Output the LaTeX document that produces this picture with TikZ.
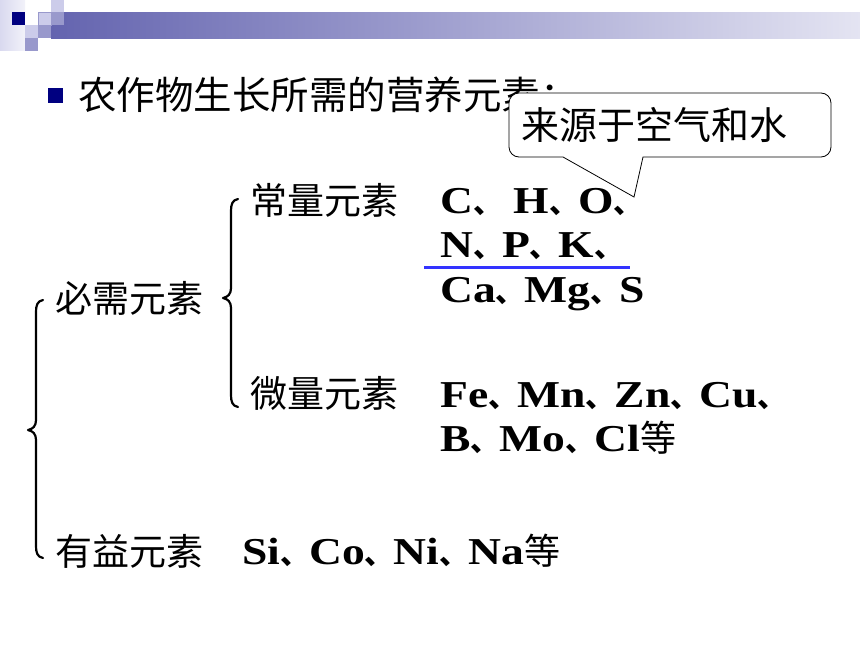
\documentclass[tikz,border=0pt]{standalone}
\usepackage{fontspec}
\setmainfont{Liberation Serif}[FakeStretch=1.2]
\newfontfamily\cjk{Noto Sans CJK SC}
\definecolor{navy}{HTML}{000080}
\definecolor{sqlight}{HTML}{CCCCEA}
\definecolor{sqmid}{HTML}{9999CC}
\definecolor{lineblue}{HTML}{3333FF}
\definecolor{c06}{HTML}{0C0C86}
\definecolor{c18}{HTML}{5353A6}
\definecolor{c47}{HTML}{9A9ACC}
\definecolor{c75}{HTML}{E4E4F2}
\definecolor{c100}{HTML}{FBFBFD}
\pgfdeclarehorizontalshading{hdrbar}{100bp}{color(0bp)=(navy); color(6bp)=(c06); color(18bp)=(c18); color(47bp)=(c47); color(75bp)=(c75); color(100bp)=(c100)}
\pgfdeclarehorizontalshading{leftstrip}{100bp}{color(0bp)=(sqlight); color(100bp)=(white)}
\newcommand\dn{{\cjk\fontsize{29}{34}\selectfont 、}}
\newcommand\deng{{\mdseries\cjk\fontsize{36}{38}\selectfont 等}}
\tikzset{
  zh/.style={inner sep=0pt, anchor=west, font=\cjk\fontsize{37}{40}\selectfont},
  el/.style={inner sep=0pt, anchor=base west, font=\bfseries\fontsize{38}{40}\selectfont},
  bracepath/.style={line width=2.2pt, line cap=round, line join=round},
}
\begin{document}
\begin{tikzpicture}[x=1pt,y=-1pt]
\useasboundingbox (0,0) rectangle (860,645);
\fill[white] (0,0) rectangle (860,645);
% header decoration
\shade[shading=leftstrip] (0,0) rectangle (25,50);
\shade[shading=hdrbar] (51,12) rectangle (860,38);
\fill[navy] (12,12) rectangle (25,25);
\fill[sqlight] (38,12) rectangle (51,25);
\draw[sqmid, line width=0.6pt] (38,12) rectangle (51,25);
\fill[sqlight] (51,0) rectangle (64,12);
\fill[sqmid] (51,12) rectangle (64,25);
\fill[sqlight] (25,25) rectangle (38,38);
\fill[sqmid] (38,25) rectangle (51,38);
\fill[sqmid] (25,38) rectangle (38,51);
% title
\node[fill=navy, inner sep=0pt, minimum size=15pt] (bullet) at (55,95) {};
\node[zh, font=\cjk\fontsize{38.5}{40}\selectfont] (title) at (78,95) {农作物生长所需的营养元素：};
% callout
\draw[fill=white, line width=0.8pt, rounded corners=10pt] (700,157) -- (831,157) -- (831,93) -- (509,93) -- (509,157) [sharp corners] -- (563,157) -- (634,197) -- (643,157) -- cycle;
\node[zh, font=\cjk\fontsize{38}{40}\selectfont] (src) at (521,125) {来源于空气和水};
% braces
\draw[bracepath] (43,300) .. controls (37,301) and (36,306) .. (36,312) -- (36,420) .. controls (36,426) and (33,429) .. (28,430) .. controls (33,431) and (36,434) .. (36,440) -- (36,546) .. controls (36,552) and (37,557) .. (43,558);
\draw[bracepath] (238,199) .. controls (232,200) and (231,205) .. (231,211) -- (231,288) .. controls (231,294) and (228,297) .. (223,298) .. controls (228,299) and (231,302) .. (231,308) -- (231,395) .. controls (231,401) and (232,406) .. (238,407);
% labels
\node[zh] (bixu) at (55,298) {必需元素};
\node[zh] (youyi) at (55,551) {有益元素};
\node[zh] (changl) at (250,200) {常量元素};
\node[zh] (weil) at (250,393) {微量元素};
% element lists
\node[el] (r1) at (440,213) {C\dn\ H\dn O\dn};
\node[el] (r2) at (440,257) {N\dn P\dn K\dn};
\coordinate (ul1) at (424,267);
\coordinate (ul2) at (630,267);
\draw[lineblue, line width=3pt] (ul1) -- (ul2);
\node[el] (r3) at (440,302) {Ca\dn Mg\dn S};
\node[el] (r4) at (440,407) {Fe\dn Mn\dn Zn\dn Cu\dn};
\node[el] (r5) at (440,451) {B\dn Mo\dn Cl\deng};
\node[el] (r6) at (242,564) {Si\dn Co\dn Ni\dn Na\deng};
\end{tikzpicture}
\end{document}
